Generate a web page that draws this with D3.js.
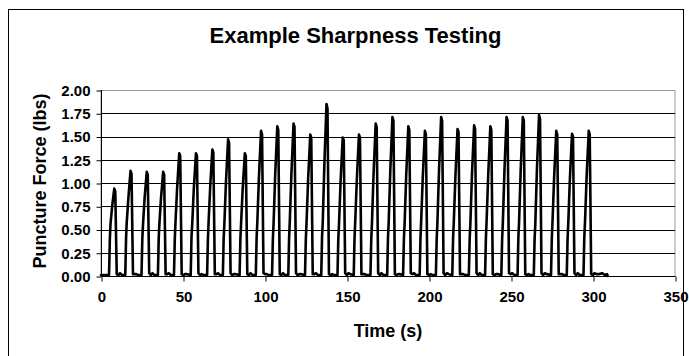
<!DOCTYPE html>
<html>
<head>
<meta charset="utf-8">
<script src="https://cdn.jsdelivr.net/npm/d3@7"></script>
<style>
  html, body { margin: 0; padding: 0; background: #fff; }
  svg { display: block; }
  text { font-family: "Liberation Sans", Arial, sans-serif; font-weight: bold; fill: #000; }
</style>
</head>
<body>
<svg id="chart" width="689" height="356"></svg>
<script>
// ---------------- data ----------------
const chartTitle = "Example Sharpness Testing";
const xTitle = "Time (s)";
const yTitle = "Puncture Force (lbs)";
const xTicks = [0, 50, 100, 150, 200, 250, 300, 350];
const yTicks = [0, 0.25, 0.5, 0.75, 1.0, 1.25, 1.5, 1.75, 2.0];

// time (s) samples of the force trace, one line per puncture cycle
const timeS = [
  0, 2.5, 4.9,
  5.4, 5.8, 6.8, 8.1, 8.7, 9.6, 10.6, 11.6, 12.8, 14.8,
  15.3, 15.7, 16.7, 18.0, 18.6, 19.5, 20.5, 21.5, 22.7, 24.7,
  25.2, 25.6, 26.6, 27.9, 28.5, 29.4, 30.4, 31.4, 32.6, 34.7,
  35.2, 35.6, 36.6, 37.9, 38.5, 39.4, 40.4, 41.4, 42.6, 44.5,
  45.0, 45.4, 46.4, 47.7, 48.3, 49.2, 50.2, 51.2, 52.4, 54.7,
  55.2, 55.6, 56.6, 57.9, 58.5, 59.4, 60.4, 61.4, 62.6, 64.7,
  65.2, 65.6, 66.6, 67.9, 68.5, 69.4, 70.4, 71.4, 72.6, 74.3,
  74.8, 75.2, 76.2, 77.5, 78.1, 79.0, 80.0, 81.0, 82.2, 84.5,
  85.0, 85.4, 86.4, 87.7, 88.3, 89.2, 90.2, 91.2, 92.4, 94.4,
  94.9, 95.3, 96.3, 97.6, 98.2, 99.1, 100.1, 101.1, 102.3, 104.3,
  104.8, 105.2, 106.2, 107.5, 108.1, 109.0, 110.0, 111.0, 112.2, 114.2,
  114.7, 115.1, 116.1, 117.4, 118.0, 118.9, 119.9, 120.9, 122.1, 124.4,
  124.9, 125.3, 126.3, 127.6, 128.2, 129.1, 130.1, 131.1, 132.3, 134.3,
  134.8, 135.2, 136.2, 137.5, 138.1, 139.0, 140.0, 141.0, 142.2, 144.2,
  144.7, 145.1, 146.1, 147.4, 148.0, 148.9, 149.9, 150.9, 152.1, 154.1,
  154.6, 155.0, 156.0, 157.3, 157.9, 158.8, 159.8, 160.8, 162.0, 164.3,
  164.8, 165.2, 166.2, 167.5, 168.1, 169.0, 170.0, 171.0, 172.2, 174.5,
  175.0, 175.4, 176.4, 177.7, 178.3, 179.2, 180.2, 181.2, 182.4, 184.2,
  184.7, 185.1, 186.1, 187.4, 188.0, 188.9, 189.9, 190.9, 192.1, 194.3,
  194.8, 195.2, 196.2, 197.5, 198.1, 199.0, 200.0, 201.0, 202.2, 204.2,
  204.7, 205.1, 206.1, 207.4, 208.0, 208.9, 209.9, 210.9, 212.1, 214.2,
  214.7, 215.1, 216.1, 217.4, 218.0, 218.9, 219.9, 220.9, 222.1, 224.3,
  224.8, 225.2, 226.2, 227.5, 228.1, 229.0, 230.0, 231.0, 232.2, 234.2,
  234.7, 235.1, 236.1, 237.4, 238.0, 238.9, 239.9, 240.9, 242.1, 244.1,
  244.6, 245.0, 246.0, 247.3, 247.9, 248.8, 249.8, 250.8, 252.0, 254.0,
  254.5, 254.9, 255.9, 257.2, 257.8, 258.7, 259.7, 260.7, 261.9, 263.9,
  264.4, 264.8, 265.8, 267.1, 267.7, 268.6, 269.6, 270.6, 271.8, 274.4,
  274.9, 275.3, 276.3, 277.6, 278.2, 279.1, 280.1, 281.1, 282.3, 284.0,
  284.5, 284.9, 285.9, 287.2, 287.8, 288.7, 289.7, 290.7, 291.9, 294.2,
  294.7, 295.1, 296.1, 297.4, 298.0, 298.9, 299.9, 300.9, 302.1,
  303.5, 305.5, 307.5, 308.5, 309.0
];

// puncture force (lbs) at each time sample above
const forceLbs = [
  0.01, 0.01, 0.01,
  0.40, 0.56, 0.75, 0.94, 0.91, 0.02, 0.01, 0.03, 0.01, 0.01,
  0.42, 0.58, 0.84, 1.13, 1.10, 0.02, 0.02, 0.02, 0.01, 0.01,
  0.40, 0.55, 0.84, 1.12, 1.09, 0.03, 0.01, 0.03, 0.01, 0.01,
  0.41, 0.56, 0.84, 1.12, 1.09, 0.02, 0.02, 0.03, 0.01, 0.01,
  0.40, 0.57, 0.94, 1.32, 1.29, 0.02, 0.01, 0.02, 0.02, 0.01,
  0.43, 0.55, 0.94, 1.32, 1.29, 0.03, 0.01, 0.02, 0.01, 0.01,
  0.40, 0.58, 0.96, 1.36, 1.33, 0.02, 0.02, 0.03, 0.01, 0.01,
  0.41, 0.55, 1.01, 1.47, 1.43, 0.03, 0.01, 0.02, 0.02, 0.01,
  0.40, 0.56, 0.94, 1.32, 1.29, 0.02, 0.01, 0.03, 0.01, 0.01,
  0.42, 0.57, 1.06, 1.56, 1.52, 0.03, 0.02, 0.02, 0.01, 0.01,
  0.40, 0.55, 1.08, 1.61, 1.57, 0.02, 0.01, 0.03, 0.01, 0.01,
  0.41, 0.58, 1.10, 1.64, 1.60, 0.03, 0.01, 0.02, 0.02, 0.01,
  0.40, 0.56, 1.04, 1.52, 1.49, 0.02, 0.02, 0.03, 0.01, 0.01,
  0.43, 0.57, 1.20, 1.85, 1.80, 0.02, 0.01, 0.02, 0.01, 0.01,
  0.40, 0.55, 1.02, 1.49, 1.46, 0.03, 0.01, 0.03, 0.02, 0.01,
  0.41, 0.58, 1.04, 1.52, 1.49, 0.02, 0.02, 0.02, 0.01, 0.01,
  0.40, 0.56, 1.10, 1.64, 1.60, 0.03, 0.01, 0.03, 0.01, 0.01,
  0.42, 0.57, 1.13, 1.71, 1.67, 0.02, 0.01, 0.02, 0.02, 0.01,
  0.40, 0.55, 1.08, 1.61, 1.57, 0.03, 0.02, 0.03, 0.01, 0.01,
  0.41, 0.58, 1.06, 1.56, 1.52, 0.02, 0.01, 0.02, 0.01, 0.01,
  0.40, 0.56, 1.13, 1.71, 1.67, 0.03, 0.01, 0.03, 0.02, 0.01,
  0.42, 0.57, 1.07, 1.58, 1.55, 0.02, 0.02, 0.02, 0.01, 0.01,
  0.40, 0.55, 1.09, 1.62, 1.58, 0.03, 0.01, 0.03, 0.01, 0.01,
  0.41, 0.58, 1.08, 1.61, 1.57, 0.02, 0.01, 0.02, 0.02, 0.01,
  0.40, 0.56, 1.13, 1.71, 1.67, 0.03, 0.02, 0.03, 0.01, 0.01,
  0.42, 0.57, 1.13, 1.71, 1.67, 0.02, 0.01, 0.02, 0.01, 0.01,
  0.40, 0.55, 1.14, 1.73, 1.69, 0.03, 0.01, 0.03, 0.02, 0.01,
  0.41, 0.58, 1.06, 1.56, 1.52, 0.02, 0.02, 0.02, 0.01, 0.01,
  0.40, 0.56, 1.04, 1.53, 1.50, 0.03, 0.01, 0.03, 0.01, 0.01,
  0.42, 0.57, 1.06, 1.56, 1.52, 0.02, 0.01, 0.03, 0.02,
  0.02, 0.03, 0.01, 0.02, 0.00
];

// ---------------- drawing ----------------
const W = 689, H = 356;

const svg = d3.select("#chart");
svg.append("rect").attr("width", W).attr("height", H).attr("fill", "#fff");
// chart-area frame
svg.append("rect").attr("x", 8.5).attr("y", 9.5).attr("width", 675).attr("height", 370)
  .attr("fill", "none").attr("stroke", "#000").attr("stroke-width", 1);

const x = d3.scaleLinear().domain([0, 350]).range([101, 675]);
const y = d3.scaleLinear().domain([0, 2]).range([276, 90]);

svg.append("text").attr("x", 355.5).attr("y", 43).attr("text-anchor", "middle")
  .style("font-size", "22px").text(chartTitle);

// plot area border (grey)
svg.append("rect").attr("x", 101).attr("y", 90.5).attr("width", 574).attr("height", 186)
  .attr("fill", "none").attr("stroke", "#999").attr("stroke-width", 1);

// gridlines
svg.append("g").selectAll("line").data(yTicks.filter(v => v > 0 && v < 2)).join("line")
  .attr("x1", 101).attr("x2", 675)
  .attr("y1", d => Math.round(y(d)) + 0.5).attr("y2", d => Math.round(y(d)) + 0.5)
  .attr("stroke", "#000").attr("stroke-width", 1);

// axes
const yAxis = d3.axisLeft(y).tickValues(yTicks).tickFormat(d3.format(".2f")).tickSize(5).tickPadding(6);
const gy = svg.append("g").attr("transform", "translate(101.5,0.5)").call(yAxis);
const xAxis = d3.axisBottom(x).tickValues(xTicks).tickFormat(d3.format("d")).tickSize(5).tickPadding(10);
const gx = svg.append("g").attr("transform", "translate(0.5,276.5)").call(xAxis);
[gy, gx].forEach(g => {
  g.select(".domain").attr("stroke", "#000").attr("stroke-width", 1);
  g.selectAll(".tick line").attr("stroke", "#000");
  g.selectAll("text").style("font-size", "15px").style("font-family", "'Liberation Sans', Arial, sans-serif").style("font-weight", "bold");
});
gx.select(".domain").attr("d", "M100.5,0H675");
gy.select(".domain").attr("d", "M0,275.5V89.5");

// axis titles
svg.append("text").attr("x", 388).attr("y", 337).attr("text-anchor", "middle")
  .style("font-size", "18px").text(xTitle);
svg.append("text").attr("transform", "translate(46,181) rotate(-90)").attr("text-anchor", "middle")
  .style("font-size", "18px").text(yTitle);

// force trace
const pts = timeS.map((t, i) => [t, forceLbs[i]]);
const line = d3.line().x(d => x(d[0])).y(d => y(d[1]));
svg.append("path").datum(pts).attr("d", line)
  .attr("fill", "none").attr("stroke", "#000").attr("stroke-width", 2.6)
  .attr("stroke-linejoin", "round").attr("stroke-linecap", "round");
</script>
</body>
</html>
